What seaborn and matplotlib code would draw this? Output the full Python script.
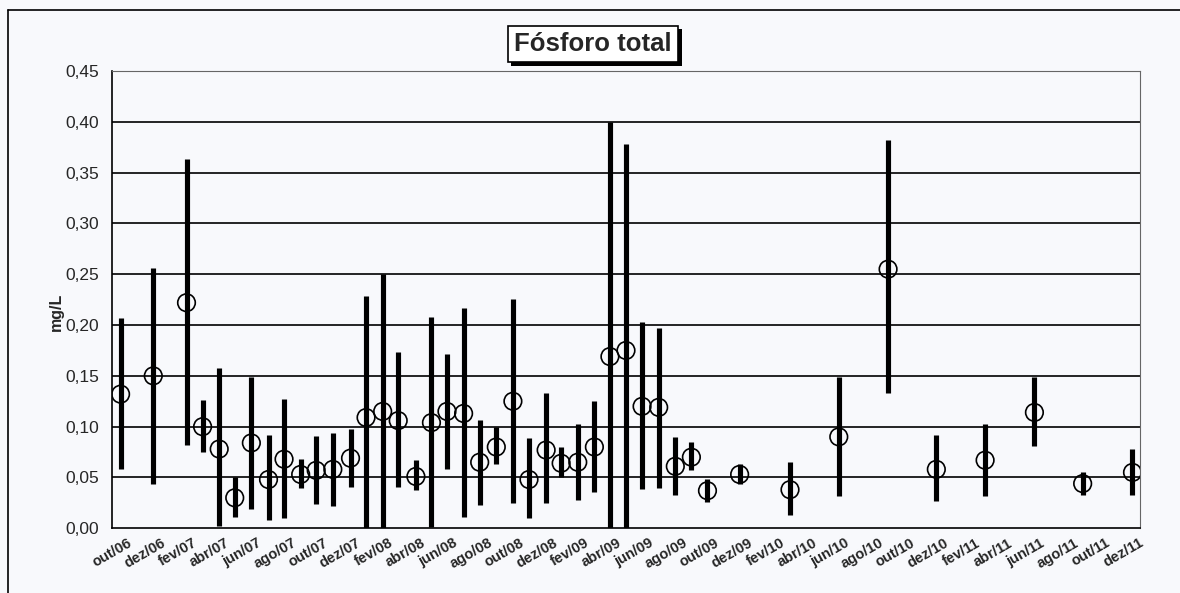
import pandas as pd
import numpy as np
import matplotlib.pyplot as plt
import matplotlib.patheffects as pe
from matplotlib.lines import Line2D
from matplotlib.transforms import ScaledTranslation
import seaborn as sns

# datas das coletas
datas = ["2006-10-17", "2006-12-17", "2007-02-17", "2007-03-19", "2007-04-19",
         "2007-05-18", "2007-06-18", "2007-07-20", "2007-08-18", "2007-09-18",
         "2007-10-17", "2007-11-17", "2007-12-20", "2008-01-18", "2008-02-18",
         "2008-03-18", "2008-04-20", "2008-05-19", "2008-06-17", "2008-07-18",
         "2008-08-17", "2008-09-17", "2008-10-18", "2008-11-17", "2008-12-19",
         "2009-01-16", "2009-02-16", "2009-03-19", "2009-04-17", "2009-05-17",
         "2009-06-16", "2009-07-17", "2009-08-17", "2009-09-16", "2009-10-16",
         "2009-12-15", "2010-03-19", "2010-06-18", "2010-09-18", "2010-12-17",
         "2011-03-18", "2011-06-18", "2011-09-16", "2011-12-18"]

maximo = [0.207, 0.256, 0.363, 0.126, 0.158, 0.050, 0.149, 0.092, 0.127, 0.068,
          0.091, 0.094, 0.098, 0.229, 0.250, 0.173, 0.067, 0.208, 0.172, 0.217,
          0.107, 0.100, 0.226, 0.089, 0.133, 0.080, 0.103, 0.125, 0.400, 0.378,
          0.203, 0.197, 0.090, 0.085, 0.049, 0.063, 0.065, 0.149, 0.382, 0.092,
          0.103, 0.149, 0.055, 0.078]

minimo = [0.058, 0.044, 0.082, 0.075, 0.002, 0.011, 0.019, 0.008, 0.010, 0.040,
          0.024, 0.022, 0.041, 0.000, 0.000, 0.041, 0.038, 0.001, 0.058, 0.011,
          0.023, 0.063, 0.025, 0.010, 0.025, 0.050, 0.028, 0.036, 0.000, 0.000,
          0.039, 0.040, 0.033, 0.057, 0.026, 0.044, 0.013, 0.032, 0.133, 0.027,
          0.032, 0.081, 0.033, 0.033]

media = [0.132, 0.150, 0.222, 0.100, 0.078, 0.030, 0.084, 0.048, 0.068, 0.053,
         0.057, 0.058, 0.069, 0.109, 0.115, 0.106, 0.051, 0.104, 0.115, 0.113,
         0.065, 0.080, 0.125, 0.048, 0.077, 0.064, 0.065, 0.080, 0.169, 0.175,
         0.120, 0.119, 0.061, 0.070, 0.037, 0.053, 0.038, 0.090, 0.255, 0.058,
         0.067, 0.114, 0.044, 0.055]

rotulos_x = ["out/06", "dez/06", "fev/07", "abr/07", "jun/07", "ago/07", "out/07", "dez/07",
             "fev/08", "abr/08", "jun/08", "ago/08", "out/08", "dez/08", "fev/09", "abr/09",
             "jun/09", "ago/09", "out/09", "dez/09", "fev/10", "abr/10", "jun/10", "ago/10",
             "out/10", "dez/10", "fev/11", "abr/11", "jun/11", "ago/11", "out/11", "dez/11"]

df = pd.DataFrame({"data": pd.to_datetime(datas), "min": minimo, "max": maximo, "media": media})
ticks_x = pd.date_range("2006-10-01", "2011-12-01", freq="2MS")

sns.set_style("white")
plt.rcParams["font.family"] = ["Liberation Sans", "DejaVu Sans"]

fundo = "#f8f9fc"
fig = plt.figure(figsize=(11.8, 5.93), dpi=100, facecolor=fundo)
ax = fig.add_axes([112 / 1180, 1 - 528.3 / 593, 1028 / 1180, 457.3 / 593])
ax.set_facecolor(fundo)

for v in np.arange(0.05, 0.451, 0.05):
    ax.axhline(v, color="black", lw=1.2, zorder=1)

ax.vlines(df["data"], df["min"], df["max"], color="black", lw=3.7, zorder=2,
          capstyle="butt")
sns.scatterplot(data=df, x="data", y="media", ax=ax, marker="o", s=160,
                facecolor="none", edgecolor="black", linewidth=1.2, zorder=3)

ax.set_xlim(pd.Timestamp("2006-10-01"), pd.Timestamp("2012-01-01"))
ax.set_ylim(0, 0.45)
ax.set_yticks(np.arange(0, 0.451, 0.05))
ax.set_yticklabels([f"{v:.2f}".replace(".", ",") for v in np.arange(0, 0.451, 0.05)],
                   fontsize=12.5)
ax.set_xticks(ticks_x)
ax.set_xticklabels(rotulos_x, rotation=30, fontsize=10.5, fontweight="bold", ha="center")
desloc = ScaledTranslation(-9 / 100, -3 / 100, fig.dpi_scale_trans)
for lbl in ax.get_xticklabels():
    lbl.set_transform(lbl.get_transform() + desloc)

ax.set_xlabel("")
ax.set_ylabel("")
ax.tick_params(axis="y", direction="out", length=6.5, width=1, color="black", pad=3)
ax.tick_params(axis="x", direction="inout", length=7, width=1, color="black", pad=2)

for lado in ["left", "bottom"]:
    ax.spines[lado].set_color("black")
    ax.spines[lado].set_linewidth(1.2)
for lado in ["top", "right"]:
    ax.spines[lado].set_color("#666666")
    ax.spines[lado].set_linewidth(0.8)

fig.text(0.048, 1 - 312 / 593, "mg/L", rotation=90, fontsize=11.5, fontweight="bold",
         ha="center", va="center")

titulo = fig.text(593 / 1180, 1 - 44 / 593, "Fósforo total", fontsize=18.5,
                  fontweight="bold", ha="center", va="center",
                  bbox=dict(boxstyle="square,pad=0.25", facecolor="white",
                            edgecolor="black", linewidth=1.2))
titulo.get_bbox_patch().set_path_effects(
    [pe.withSimplePatchShadow(offset=(2.5, -2.5), shadow_rgbFace="black", alpha=1)])

# moldura externa
fig.add_artist(Line2D([8 / 1180, 1], [1 - 10 / 593, 1 - 10 / 593], color="black", lw=1.2,
                      transform=fig.transFigure))
fig.add_artist(Line2D([8 / 1180, 8 / 1180], [0, 1 - 10 / 593], color="black", lw=1.2,
                      transform=fig.transFigure))

fig.savefig("out.png", dpi=100, facecolor=fundo)
